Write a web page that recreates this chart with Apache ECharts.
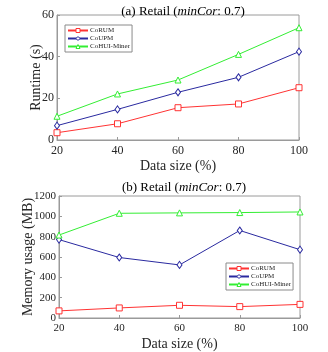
<!DOCTYPE html>
<html>
<head>
<meta charset="utf-8">
<script src="https://cdn.jsdelivr.net/npm/echarts@6/dist/echarts.min.js"></script>
<style>
  html, body { margin: 0; padding: 0; background: #fff; }
  #chart { width: 328px; height: 352px; }
</style>
</head>
<body>
<div id="chart"></div>
<script>
// data size (%)
const dataSize = [20, 40, 60, 80, 100]
// (a) runtime (s)
const runCoRUM = [3.5, 7.8, 15.5, 17.3, 25.1]
const runCoUPM = [6.9, 14.7, 22.9, 30.1, 42.4]
const runCoHUI = [11.4, 22.1, 28.8, 41.1, 53.9]
// (b) memory usage (MB)
const memCoRUM = [70, 99, 125, 112, 134]
const memCoUPM = [771, 595, 522, 861, 672]
const memCoHUI = [816, 1030, 1034, 1037, 1043]

const names = ['CoRUM', 'CoUPM', 'CoHUI-Miner']
const colors = ['#ff3333', '#2a2aa0', '#33ee33']
const symbols = ['rect', 'diamond', 'triangle']

const font = 'Liberation Serif'
const axisGray = '#9a9a9a'
const textColor = '#262626'

const chart = echarts.init(document.getElementById('chart'))

function pairs(ys) {
  return dataSize.map((x, i) => [x, ys[i]])
}

function makeSeries(idx, grid, ys) {
  return {
    name: names[idx],
    type: 'line',
    xAxisIndex: grid,
    yAxisIndex: grid,
    data: pairs(ys),
    symbol: symbols[idx],
    symbolSize: idx === 1 ? [5, 7] : 6,
    lineStyle: { color: colors[idx], width: 1 },
    itemStyle: { color: '#fff', borderColor: colors[idx], borderWidth: 1 },
    emphasis: { disabled: true },
    animation: false
  }
}

function xAx(grid, fs) {
  return {
    gridIndex: grid,
    type: 'value',
    min: 20,
    max: 100,
    interval: 20,
    name: 'Data size (%)',
    nameLocation: 'middle',
    nameGap: 19,
    nameMoveOverlap: false,
    nameTextStyle: { fontFamily: font, fontSize: 14, color: textColor },
    axisLine: { lineStyle: { color: axisGray } },
    axisTick: { inside: true, length: 3, lineStyle: { color: axisGray } },
    axisLabel: { fontFamily: font, fontSize: fs, color: textColor, margin: 5 },
    splitLine: { show: false }
  }
}

function yAx(grid, max, interval, name, gap, fs) {
  return {
    gridIndex: grid,
    type: 'value',
    min: 0,
    max: max,
    interval: interval,
    name: name,
    nameLocation: 'middle',
    nameGap: gap,
    nameMoveOverlap: false,
    nameTextStyle: { fontFamily: font, fontSize: 14, color: textColor },
    axisLine: { show: true, lineStyle: { color: axisGray } },
    axisTick: { show: true, inside: true, length: 3, lineStyle: { color: axisGray } },
    axisLabel: { fontFamily: font, fontSize: fs, color: textColor, margin: 3, formatter: v => String(v) },
    splitLine: { show: false }
  }
}

function legendAt(left, top) {
  return {
    orient: 'vertical',
    left: left,
    top: top,
    data: names.map((n, i) => ({
      name: n,
      itemStyle: { color: '#fff', borderColor: colors[i], borderWidth: 1 }
    })),
    itemWidth: 20,
    itemHeight: 5,
    itemGap: 1,
    padding: [2, 2, 2, 2],
    backgroundColor: '#fff',
    borderColor: '#8a8a8a',
    borderWidth: 1,
    textStyle: { fontFamily: font, fontSize: 7, color: textColor, padding: [0, 0, 0, -3] },
    selectedMode: false
  }
}

const option = {
  backgroundColor: '#fff',
  title: [
    {
      text: '(a) Retail ({i|minCor}: 0.7)',
      left: 178,
      top: 0,
      textAlign: 'center',
      textStyle: {
        fontFamily: font, fontSize: 13, fontWeight: 'normal', color: '#000',
        rich: { i: { fontFamily: font, fontSize: 13, fontStyle: 'italic', color: '#000' } }
      }
    },
    {
      text: '(b) Retail ({i|minCor}: 0.7)',
      left: 179,
      top: 176,
      textAlign: 'center',
      textStyle: {
        fontFamily: font, fontSize: 13, fontWeight: 'normal', color: '#000',
        rich: { i: { fontFamily: font, fontSize: 13, fontStyle: 'italic', color: '#000' } }
      }
    }
  ],
  grid: [
    { left: 57, right: 29, top: 15, height: 125, show: true, borderColor: axisGray, borderWidth: 1, backgroundColor: 'transparent' },
    { left: 59, right: 28, top: 196, height: 125, show: true, borderColor: axisGray, borderWidth: 1, backgroundColor: 'transparent' }
  ],
  xAxis: [xAx(0, 12), xAx(1, 11)],
  yAxis: [yAx(0, 60, 20, 'Runtime (s)', 14, 12), yAx(1, 1200, 200, 'Memory usage (MB)', 24, 11)],
  legend: [legendAt(65, 25), legendAt(226, 263)],
  series: [
    makeSeries(0, 0, runCoRUM),
    makeSeries(1, 0, runCoUPM),
    makeSeries(2, 0, runCoHUI),
    makeSeries(0, 1, memCoRUM),
    makeSeries(1, 1, memCoUPM),
    makeSeries(2, 1, memCoHUI)
  ]
}

chart.setOption(option)
</script>
</body>
</html>
